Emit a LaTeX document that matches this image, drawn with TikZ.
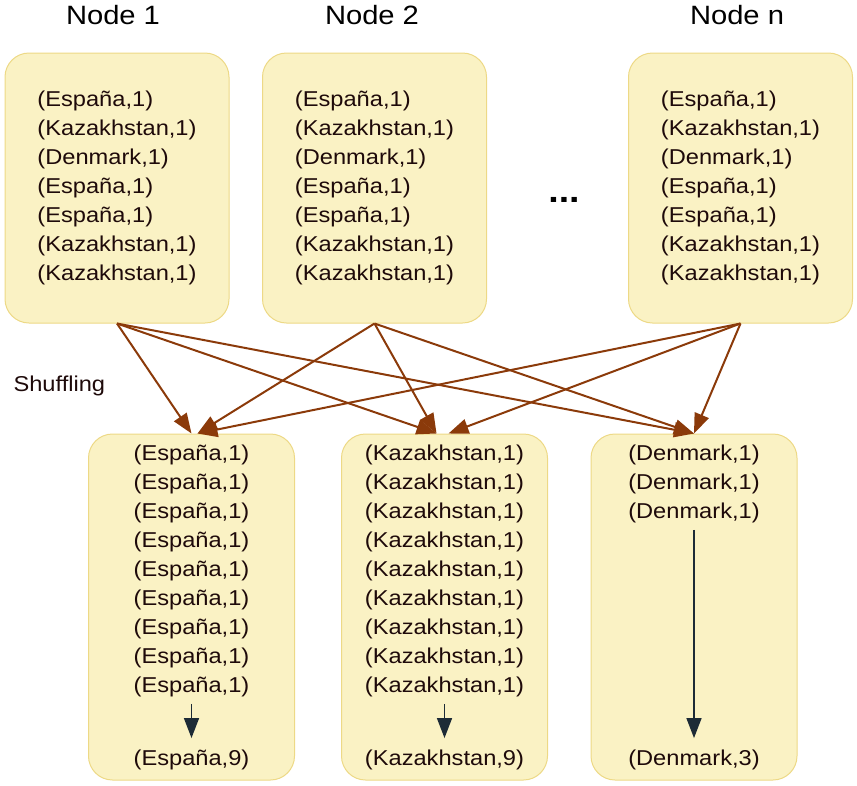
\documentclass[tikz,border=0pt]{standalone}
\usepackage{fontspec}
\setmainfont{Liberation Sans}[FakeStretch=1.1]
\usetikzlibrary{arrows.meta, positioning}
\definecolor{boxfill}{HTML}{FAF2C4}
\definecolor{boxline}{HTML}{EDD986}
\definecolor{shbrown}{HTML}{8B3A0A}
\definecolor{rdnavy}{HTML}{1D2B36}
\definecolor{txtdark}{HTML}{1E0A0A}

\begin{document}
\begin{tikzpicture}[x=1pt, y=-1pt,
  box/.style={draw=boxline, fill=boxfill, line width=1pt, rounded corners=24pt},
  pairs/.style={font=\fontsize{21.5}{29}\selectfont, text=txtdark, align=left, inner sep=0pt},
  title/.style={font=\fontsize{26.5}{30}\selectfont},
  shuffle/.style={draw=shbrown, line width=2pt, -{Triangle[length=20pt, width=15pt]}},
  reduce/.style={draw=rdnavy, line width=1.5pt, -{Triangle[length=20pt, width=15pt]}, shorten <=7pt, shorten >=12pt}]

\useasboundingbox (0,0) rectangle (857,785);

% Titles
\node[title] (t1) at (113,15) {Node 1};
\node[title] (t2) at (372,15) {Node 2};
\node[title] (tn) at (737,15) {Node n};

% Map nodes
\node[box, pairs, minimum width=224, minimum height=270] (node1) at (117,188)
  {(España,1)\\(Kazakhstan,1)\\(Denmark,1)\\(España,1)\\(España,1)\\(Kazakhstan,1)\\(Kazakhstan,1)};
\node[box, pairs, minimum width=224, minimum height=270] (node2) at (374.5,188)
  {(España,1)\\(Kazakhstan,1)\\(Denmark,1)\\(España,1)\\(España,1)\\(Kazakhstan,1)\\(Kazakhstan,1)};
\node[box, pairs, minimum width=224, minimum height=270] (noden) at (740.5,188)
  {(España,1)\\(Kazakhstan,1)\\(Denmark,1)\\(España,1)\\(España,1)\\(Kazakhstan,1)\\(Kazakhstan,1)};
\node[font=\fontsize{34}{34}\selectfont\bfseries] (dots) at (564,200) {...};

% Reduce boxes
\node[box, minimum width=206, minimum height=346] (red1) at (191.5,607) {};
\node[box, minimum width=206, minimum height=346] (red2) at (444.5,607) {};
\node[box, minimum width=206, minimum height=346] (red3) at (694,607) {};

\node[pairs, anchor=north, below=11pt of red1.north] (list1)
  {(España,1)\\(España,1)\\(España,1)\\(España,1)\\(España,1)\\(España,1)\\(España,1)\\(España,1)\\(España,1)};
\node[pairs, anchor=north, below=11pt of red2.north] (list2)
  {(Kazakhstan,1)\\(Kazakhstan,1)\\(Kazakhstan,1)\\(Kazakhstan,1)\\(Kazakhstan,1)\\(Kazakhstan,1)\\(Kazakhstan,1)\\(Kazakhstan,1)\\(Kazakhstan,1)};
\node[pairs, anchor=north, below=11pt of red3.north] (list3)
  {(Denmark,1)\\(Denmark,1)\\(Denmark,1)};

\node[pairs, above=10pt of red1.south] (sum1) {(España,9)};
\node[pairs, above=10pt of red2.south] (sum2) {(Kazakhstan,9)};
\node[pairs, above=10pt of red3.south] (sum3) {(Denmark,3)};

\draw[reduce] (list1.south) -- (sum1.north);
\draw[reduce] (list2.south) -- (sum2.north);
\draw[reduce] (list3.south) -- (sum3.north);

% Shuffling
\node[font=\fontsize{21.5}{25}\selectfont, text=txtdark, anchor=west] (shuf) at (10,386) {Shuffling};

\draw[shuffle] (node1.south) -- (red1.north);
\draw[shuffle] (node1.south) -- ([xshift=-8pt]red2.north);
\draw[shuffle] (node1.south) -- (red3.north);

\draw[shuffle] (node2.south) -- ([xshift=6pt]red1.north);
\draw[shuffle] (node2.south) -- ([xshift=-8pt]red2.north);
\draw[shuffle] (node2.south) -- (red3.north);

\draw[shuffle] (noden.south) -- ([xshift=6pt]red1.north);
\draw[shuffle] (noden.south) -- ([xshift=4pt]red2.north);
\draw[shuffle] (noden.south) -- (red3.north);

\end{tikzpicture}
\end{document}
